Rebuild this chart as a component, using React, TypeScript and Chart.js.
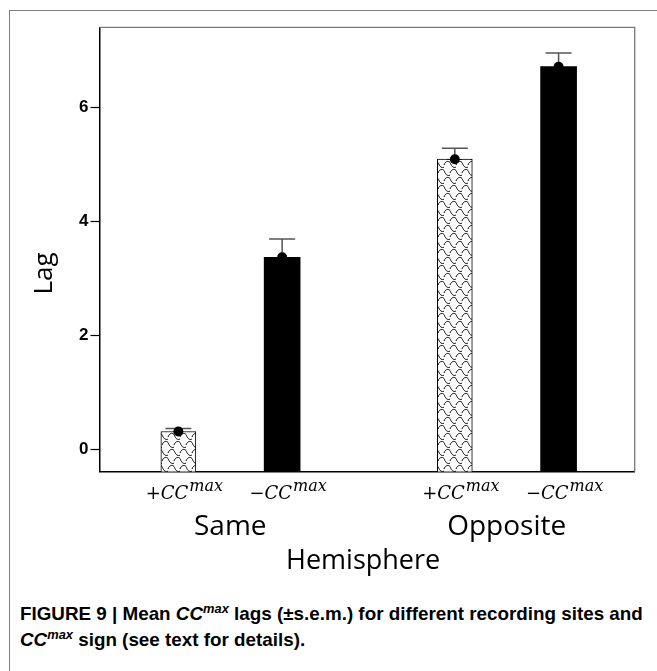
import React, { useEffect, useRef } from "react";
import { Chart, registerables } from "chart.js";

Chart.register(...registerables);

// ---- data ----
const hemispheres = ["Same", "Opposite"];
const signSymbols = ["+", "\u2212"];
const positiveMeans = [0.32, 5.09];
const positiveSem = [0.05, 0.19];
const negativeMeans = [3.37, 6.71];
const negativeSem = [0.32, 0.24];
const yTickValues = [0, 2, 4, 6];
const yAxisTitle = "Lag";
const xAxisTitle = "Hemisphere";

// ---- layout constants ----
const Y_MIN = -0.385;
const Y_MAX = 7.4;
const X_MIN = -0.473;
const X_MAX = 1.463;
const BAR_OFFSET = 0.1877;
const CANVAS_W = 657;
const CANVAS_H = 590;
const AREA_LEFT = 99.5;
const AREA_TOP = 27.3;
const AREA_RIGHT = 634.7;
const AREA_BOTTOM = 471.7;

function makePattern(): CanvasPattern | string {
  const c = document.createElement("canvas");
  c.width = 12;
  c.height = 16;
  const g = c.getContext("2d");
  if (!g) return "#ddd";
  g.fillStyle = "#fff";
  g.fillRect(0, 0, 12, 16);
  g.strokeStyle = "#000";
  g.lineWidth = 1;
  const motif = (ox: number, oy: number) => {
    g.beginPath();
    g.moveTo(ox + 0, oy + 5);
    g.bezierCurveTo(ox + 1.5, oy + 0.5, ox + 5.5, oy + 0.5, ox + 6.5, oy + 3.5);
    g.bezierCurveTo(ox + 7.5, oy + 6.5, ox + 10, oy + 8.5, ox + 12, oy + 7);
    g.stroke();
  };
  for (const dx of [-12, 0, 12]) {
    for (const dy of [-16, 0, 16]) {
      motif(dx, dy);
      motif(dx + 6, dy + 8);
    }
  }
  const p = g.createPattern(c, "repeat");
  return p || "#ddd";
}

function drawSupLabel(
  ctx: CanvasRenderingContext2D,
  main: string,
  sup: string,
  cx: number,
  baseline: number
) {
  const mainFont = 'italic 18px "DejaVu Serif", "Liberation Serif", serif';
  const supFont = 'italic 16px "DejaVu Serif", "Liberation Serif", serif';
  ctx.font = mainFont;
  const wMain = ctx.measureText(main).width;
  ctx.font = supFont;
  const wSup = ctx.measureText(sup).width;
  const start = cx - (wMain + wSup + 1) / 2;
  ctx.textAlign = "left";
  ctx.font = mainFont;
  ctx.fillText(main, start, baseline);
  ctx.font = supFont;
  ctx.fillText(sup, start + wMain + 1, baseline - 8);
}

export default function App() {
  const canvasRef = useRef<HTMLCanvasElement>(null);
  const line1Ref = useRef<HTMLDivElement>(null);
  const line2Ref = useRef<HTMLDivElement>(null);

  useEffect(() => {
    const canvas = canvasRef.current;
    if (!canvas) return;
    const pattern = makePattern();

    const figurePlugin = {
      id: "figurePlugin",
      beforeDatasetsDraw(chart: any) {
        const { ctx, chartArea: a } = chart;
        ctx.save();
        ctx.strokeStyle = "#7a7a7a";
        ctx.lineWidth = 1.3;
        ctx.beginPath();
        ctx.moveTo(a.left, a.top);
        ctx.lineTo(a.right, a.top);
        ctx.lineTo(a.right, a.bottom);
        ctx.stroke();
        ctx.restore();
      },
      afterDatasetsDraw(chart: any) {
        const { ctx } = chart;
        const ys = chart.scales.y;
        const series = [
          { means: positiveMeans, sems: positiveSem },
          { means: negativeMeans, sems: negativeSem },
        ];
        ctx.save();
        series.forEach((s, si) => {
          const meta = chart.getDatasetMeta(si);
          s.means.forEach((m, i) => {
            const el = meta.data[i];
            const x = el.x;
            const yMean = ys.getPixelForValue(m);
            const yTop = ys.getPixelForValue(m + s.sems[i]);
            ctx.strokeStyle = "#555";
            ctx.lineWidth = 1.5;
            ctx.beginPath();
            ctx.moveTo(x, yMean);
            ctx.lineTo(x, yTop);
            ctx.moveTo(x - 13, yTop);
            ctx.lineTo(x + 13, yTop);
            ctx.stroke();
            ctx.fillStyle = "#000";
            ctx.beginPath();
            ctx.arc(x, yMean, 5, 0, Math.PI * 2);
            ctx.fill();
          });
        });
        ctx.restore();
      },
      afterDraw(chart: any) {
        const { ctx, chartArea: a } = chart;
        const xs = chart.scales.x;
        ctx.save();
        ctx.fillStyle = "#000";
        ctx.textBaseline = "alphabetic";
        hemispheres.forEach((h, gi) => {
          [0, 1].forEach((si) => {
            const el = chart.getDatasetMeta(si).data[gi];
            drawSupLabel(ctx, signSymbols[si] + "CC", "max", el.x + 6, a.bottom + 27.5);
          });
          ctx.font = '28px "Open Sans", "Noto Sans", sans-serif';
          ctx.textAlign = "center";
          ctx.fillText(h, xs.getPixelForValue(gi), a.bottom + 63.5);
        });
        ctx.font = '27px "Open Sans", "Noto Sans", sans-serif';
        ctx.textAlign = "center";
        ctx.fillText(xAxisTitle, (a.left + a.right) / 2 - 4, a.bottom + 97.5);
        ctx.save();
        ctx.translate(a.left - 47.5, (a.top + a.bottom) / 2 + 24);
        ctx.rotate(-Math.PI / 2);
        ctx.font = '26px "Open Sans", "Noto Sans", sans-serif';
        ctx.textAlign = "center";
        ctx.fillText(yAxisTitle, 0, 0);
        ctx.restore();
        ctx.restore();
      },
    };

    const chart = new Chart(canvas, {
      type: "bar",
      data: {
        datasets: [
          {
            label: "+CCmax",
            data: hemispheres.map((_, i) => ({ x: i - BAR_OFFSET, y: positiveMeans[i] })),
            backgroundColor: pattern as any,
            borderColor: "#000",
            borderWidth: 1,
            base: Y_MIN,
            barThickness: 35,
            grouped: false,
          } as any,
          {
            label: "\u2212CCmax",
            data: hemispheres.map((_, i) => ({ x: i + BAR_OFFSET, y: negativeMeans[i] })),
            backgroundColor: "#000",
            borderColor: "#000",
            borderWidth: 0,
            base: Y_MIN,
            barThickness: 36,
            grouped: false,
          } as any,
        ],
      },
      options: {
        responsive: false,
        animation: false,
        layout: {
          padding: {
            left: 0,
            top: AREA_TOP,
            right: CANVAS_W - AREA_RIGHT,
            bottom: 0,
          },
        },
        plugins: {
          legend: { display: false },
          tooltip: { enabled: false },
        },
        scales: {
          x: {
            type: "linear",
            min: X_MIN,
            max: X_MAX,
            offset: false,
            ticks: { display: false },
            grid: { display: false },
            border: { display: true, color: "#000", width: 1.5 },
            afterFit(s: any) {
              s.height = CANVAS_H - AREA_BOTTOM;
            },
          },
          y: {
            type: "linear",
            min: Y_MIN,
            max: Y_MAX,
            afterBuildTicks(s: any) {
              s.ticks = yTickValues.map((v) => ({ value: v }));
            },
            ticks: {
              color: "#000",
              padding: 2,
              font: { family: '"Liberation Sans", Arial, sans-serif', size: 17, weight: "bold" },
            },
            grid: {
              display: true,
              drawOnChartArea: false,
              drawTicks: true,
              tickLength: 9,
              tickColor: "#000",
              tickWidth: 1.2,
            },
            border: { display: true, color: "#000", width: 1.5 },
            afterFit(s: any) {
              s.width = AREA_LEFT;
            },
          },
        },
      } as any,
      plugins: [figurePlugin],
    });

    const fitCaption = () => {
      const l1 = line1Ref.current;
      const l2 = line2Ref.current;
      if (!l1 || !l2) return;
      l1.style.transform = "none";
      l2.style.transform = "none";
      const w = l1.scrollWidth;
      if (w > 0) {
        const k = 623 / w;
        l1.style.transform = `scaleX(${k})`;
        l2.style.transform = `scaleX(${k})`;
      }
    };
    fitCaption();
    if ((document as any).fonts && (document as any).fonts.ready) {
      (document as any).fonts.ready.then(fitCaption);
    }

    return () => chart.destroy();
  }, []);

  const capFont = '"Liberation Sans Narrow", "Arial Narrow", "Liberation Sans", Arial, sans-serif';
  const lineStyle: React.CSSProperties = {
    position: "absolute",
    left: 20,
    whiteSpace: "nowrap",
    fontFamily: capFont,
    fontWeight: 700,
    fontSize: 19,
    lineHeight: "26px",
    color: "#000",
    transformOrigin: "0 0",
    display: "inline-block",
  };
  const supStyle: React.CSSProperties = {
    fontSize: 13,
    fontStyle: "italic",
    verticalAlign: "7px",
    lineHeight: "0",
  };

  return (
    <div
      style={{
        position: "fixed",
        left: 0,
        top: 0,
        width: 657,
        height: 671,
        overflow: "hidden",
        background: "#fff",
      }}
    >
      <div
        style={{
          position: "absolute",
          left: 9,
          top: 10,
          width: 720,
          height: 720,
          border: "1.5px solid #7f7f7f",
          boxSizing: "border-box",
        }}
      />
      <canvas
        ref={canvasRef}
        width={CANVAS_W}
        height={CANVAS_H}
        style={{ position: "absolute", left: 0, top: 0, width: CANVAS_W, height: CANVAS_H }}
      />
      <div ref={line1Ref} style={{ ...lineStyle, top: 601 }}>
        FIGURE 9 | Mean <i>CC</i>
        <span style={supStyle}>max</span> lags (±s.e.m.) for different recording sites and
      </div>
      <div ref={line2Ref} style={{ ...lineStyle, top: 627 }}>
        <i>CC</i>
        <span style={supStyle}>max</span> sign (see text for details).
      </div>
    </div>
  );
}
